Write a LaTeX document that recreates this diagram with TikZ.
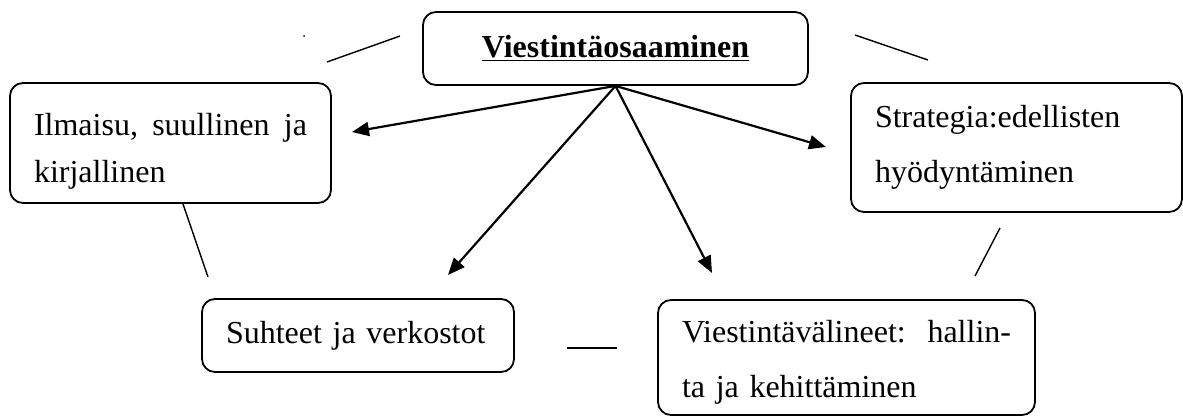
\documentclass[tikz,border=0pt]{standalone}
\usepackage{fontspec}
\setmainfont{Liberation Serif}
\usetikzlibrary{arrows.meta}
\begin{document}
\begin{tikzpicture}[x=0.5pt,y=-0.5pt]
    \tikzstyle{box} = [draw, line width=0.9pt, rounded corners=6.5pt, inner xsep=12pt, inner ysep=2pt, align=left, font=\fontsize{16}{27.5}\selectfont]
    \tikzstyle{arrow} = [line width=1.1pt, -{Triangle[length=8.5pt, width=7pt]}]
    \tikzstyle{link} = [line width=0.7pt]
    \useasboundingbox (0,0) rectangle (1183,417);
    \node[box, align=center, minimum width=192.5pt, minimum height=36.5pt] (vio) at (615.5,48.5) {\underline{\textbf{Viestintäosaaminen}}};
    \node[box, font=\fontsize{16}{23.5}\selectfont, text width=136.5pt, minimum width=160.5pt, minimum height=60pt] (ilm) at (170.5,143) {\rule{0pt}{19pt}Ilmaisu,\hfill suullinen\hfill ja\\kirjallinen};
    \node[box, text width=141.5pt, minimum width=165.5pt, minimum height=64.5pt] (str) at (1016.5,147.5) {Strategia:edellisten\\hyödyntäminen};
    \node[box, text width=132pt, minimum width=156pt, minimum height=36.5pt] (suh) at (358,335.5) {Suhteet ja verkostot};
    \node[box, text width=164.5pt, minimum width=188.5pt, minimum height=57.5pt] (vaa) at (846.5,357.5) {\rule{0pt}{15.5pt}Viestintävälineet:\hfill hallin-\\ta ja kehittäminen};
    \coordinate (tipilm) at (352,132);
    \coordinate (tipsuh) at (448,275);
    \coordinate (tipvaa) at (712,273);
    \coordinate (tipstr) at (826,147);
    \draw[arrow] (vio.south) -- (tipilm);
    \draw[arrow] (vio.south) -- (tipsuh);
    \draw[arrow] (vio.south) -- (tipvaa);
    \draw[arrow] (vio.south) -- (tipstr);
    \coordinate (nwa) at (327,62);
    \coordinate (nwb) at (400,36);
    \coordinate (nea) at (855,35);
    \coordinate (neb) at (928,60);
    \coordinate (swa) at (183,204);
    \coordinate (swb) at (208,277);
    \coordinate (sea) at (1000,228);
    \coordinate (seb) at (975,276);
    \coordinate (sa) at (567,348);
    \coordinate (sb) at (617,348);
    \draw[link] (nwa) -- (nwb);
    \draw[link] (nea) -- (neb);
    \draw[link] (swa) -- (swb);
    \draw[link] (sea) -- (seb);
    \draw[link] (sa) -- (sb);
    \fill (304,36) circle[radius=0.5pt];
\end{tikzpicture}
\end{document}
